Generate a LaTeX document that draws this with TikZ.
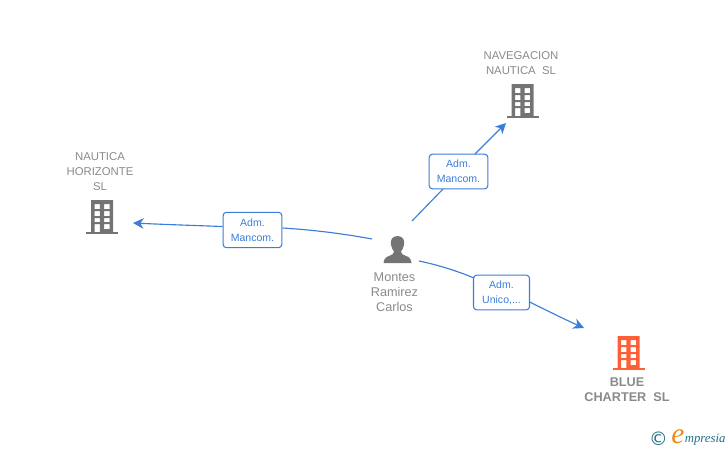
\documentclass[tikz,border=0pt]{standalone}
\usepackage{fontspec}
\setmainfont{Liberation Sans}
\newfontfamily\logofont{Liberation Serif}
\newfontfamily\symfont{DejaVu Sans}
\usetikzlibrary{arrows.meta}
\definecolor{linkblue}{HTML}{3B7DD8}
\definecolor{icongray}{HTML}{747474}
\definecolor{textgray}{HTML}{8A8A8A}
\definecolor{iconorange}{HTML}{FF5F36}
\definecolor{logoteal}{HTML}{1F6F86}
\definecolor{logoorange}{HTML}{F08A1D}
\tikzset{
  x=0.75pt,y=-0.75pt,
  conn/.style={draw=linkblue,line width=0.85pt},
  tipped/.style={conn,-{Stealth[length=8pt,width=8pt,inset=2.5pt]}},
  relbox/.style={draw=linkblue,fill=white,line width=0.8pt,rounded corners=2.4pt,
    align=center,font=\fontsize{7.9}{11.4}\selectfont,text=linkblue,inner sep=0pt},
  entname/.style={align=center,font=\fontsize{8.5}{11.2}\selectfont,text=textgray,inner sep=0pt},
  iconanchor/.style={inner sep=0pt,minimum width=24pt,minimum height=25pt},
  pics/building/.style={code={
    \fill[#1,even odd rule] (-11,-17) rectangle (11,15)
      (-7.5,-13) rectangle (-2.2,-8) (2,-13) rectangle (7.5,-8)
      (-7.5,-6) rectangle (-2.2,-1) (2,-6) rectangle (7.5,-1)
      (-7.5,1) rectangle (-2.2,5.2) (2,1) rectangle (7.5,5.2)
      (-7.5,7) rectangle (-2.2,15) (2,7) rectangle (7.5,12.2);
    \fill[#1] (-16,15) rectangle (16,17);
  }},
}
\begin{document}
\begin{tikzpicture}
\useasboundingbox (0,0) rectangle (728,450);
% icons
\node[iconanchor] (bnautica) at (102,217) {};
\pic at (bnautica.center) {building=icongray};
\node[iconanchor] (bnaveg) at (522.5,101) {};
\pic at (bnaveg.center) {building=icongray};
\node[iconanchor] (bblue) at (628.5,353) {};
\pic at (bblue.center) {building=iconorange};
\node[inner sep=0pt,minimum width=21pt,minimum height=20pt] (person) at (397.5,249.5) {};
\fill[icongray] (397.5,236) .. controls (392,236) and (390,240.5) .. (391,245)
  .. controls (391.5,248) and (393,250) .. (394,251.5)
  .. controls (394,254) and (392,255) .. (389,256)
  .. controls (385.5,257) and (384,259) .. (383.5,263)
  -- (411.5,263)
  .. controls (411,259) and (409.5,257) .. (406,256)
  .. controls (403,255) and (401,254) .. (401,251.5)
  .. controls (402,250) and (403.5,248) .. (404,245)
  .. controls (405,240.5) and (403,236) .. (397.5,236) -- cycle;
% names
\node[entname] (nnautica) at (100,172) {NAUTICA\\HORIZONTE\\SL};
\node[entname] (nnaveg) at (521,63) {NAVEGACION\\NAUTICA\ \ SL};
\node[entname,font=\fontsize{9.5}{11.2}\selectfont\bfseries,text=textgray] (nblue) at (627,389.5) {BLUE\\CHARTER\ \ SL};
\node[entname,font=\fontsize{9.5}{11.4}\selectfont] (nperson) at (394.5,292) {Montes\\Ramirez\\Carlos};
% relation boxes
\node[relbox,minimum width=44pt,minimum height=26.5pt] (rleft) at (252.5,230) {Adm.\\Mancom.};
\node[relbox,minimum width=44pt,minimum height=26pt] (rup) at (458.5,171.5) {Adm.\\Mancom.};
\node[relbox,minimum width=42pt,minimum height=26pt] (rright) at (501.5,292.5) {Adm.\\Unico,...};
% free ends
\coordinate (sleft) at (372,239);
\coordinate (sup) at (412,221);
\coordinate (sright) at (419,261);
\coordinate (eleft) at (133,223);
\coordinate (eup) at (506,123);
\coordinate (eright) at (584,328);
\coordinate (leftin) at (282.5,228);
\coordinate (leftout) at (222.5,226.5);
\coordinate (upin) at (443,189);
\coordinate (upout) at (475,154);
\coordinate (rightin) at (474,278);
\coordinate (rightout) at (529.5,302);
% connectors
\draw[conn] (sleft) .. controls (345,234) and (315,230) .. (leftin);
\draw[tipped] (leftout) .. controls (195,225.5) and (165,224.5) .. (eleft);
\draw[conn] (sup) -- (upin);
\draw[tipped] (upout) -- (eup);
\draw[conn] (sright) .. controls (438,265) and (456,270.5) .. (rightin);
\draw[tipped] (rightout) .. controls (548,311) and (566,320) .. (eright);
% logo
\node[inner sep=0pt,text=logoteal,font=\symfont\fontsize{14}{14}\selectfont] (lc) at (658.5,439) {©};
\node[inner sep=0pt,text=logoorange,font=\logofont\itshape\fontsize{22}{22}\selectfont] (le) at (678,437) {e};
\node[inner sep=0pt,anchor=base west,text=logoteal,font=\logofont\itshape\fontsize{9.6}{10}\selectfont] (lt) at (684.5,442) {mpresia};
\end{tikzpicture}
\end{document}
